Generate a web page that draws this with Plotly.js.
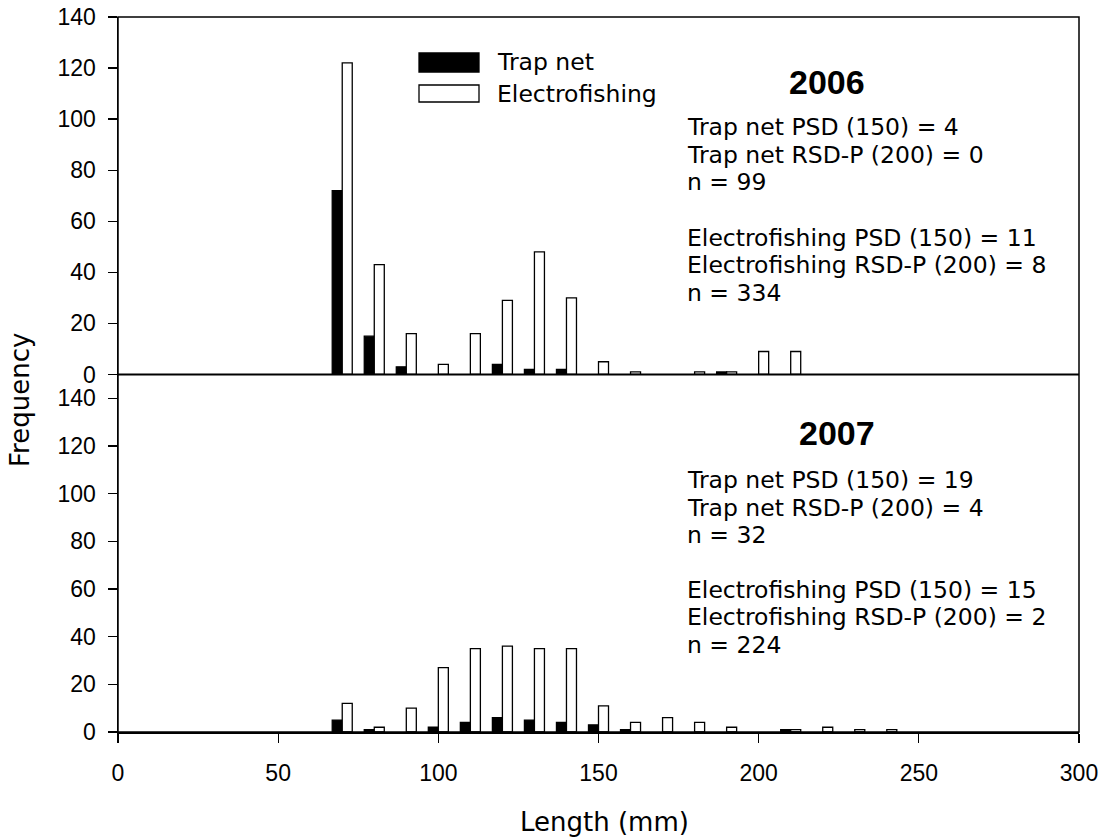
<!DOCTYPE html>
<html>
<head>
<meta charset="utf-8">
<script src="https://cdn.plot.ly/plotly-3.0.1.min.js"></script>
<style>html,body{margin:0;padding:0;background:#fff;}#plot{width:1104px;height:840px;}</style>
</head>
<body>
<div id="plot"></div>
<script>
// ---- data ----
const bins = [70, 80, 90, 100, 110, 120, 130, 140, 150, 160, 170, 180, 190, 200, 210, 220, 230, 240];
const trap2006 = [72, 15, 3, 0, 0, 4, 2, 2, 0, 0, 0, 0, 1, 0, 0, 0, 0, 0];
const electro2006 = [122, 43, 16, 4, 16, 29, 48, 30, 5, 1, 0, 1, 1, 9, 9, 0, 0, 0];
const trap2007 = [5, 1, 0, 2, 4, 6, 5, 4, 3, 1, 0, 0, 0, 0, 1, 0, 0, 0];
const electro2007 = [12, 2, 10, 27, 35, 36, 35, 35, 11, 4, 6, 4, 2, 0, 1, 2, 1, 1];
const seriesNames = ["Trap net", "Electrofishing"];
const panelTitles = ["2006", "2007"];
const stats2006 = ["Trap net PSD (150) = 4", "Trap net RSD-P (200) = 0", "n = 99",
                   "Electrofishing PSD (150) = 11", "Electrofishing RSD-P (200) = 8", "n = 334"];
const stats2007 = ["Trap net PSD (150) = 19", "Trap net RSD-P (200) = 4", "n = 32",
                   "Electrofishing PSD (150) = 15", "Electrofishing RSD-P (200) = 2", "n = 224"];
const xTicks = [0, 50, 100, 150, 200, 250, 300];
const yTicks = [0, 20, 40, 60, 80, 100, 120, 140];
const xTitle = "Length (mm)";
const yTitle = "Frequency";

// ---- layout helpers (pixel -> paper) ----
const L = 118, R = 1079, T = 17, B = 732;
const px = x => (x - L) / (R - L);
const py = y => (B - y) / (B - T);

const SANS = "Liberation Sans, Arial, sans-serif";
const WIDE = "DejaVu Sans, sans-serif";

function barTrace(x, y, ya, filled, name) {
  return {
    type: 'bar', x: x, y: y.map(v => (v === 0 ? null : v)), xaxis: 'x', yaxis: ya, name: name, showlegend: false,
    marker: { color: filled ? '#000000' : '#ffffff', line: { color: '#000000', width: 1.3 } },
    hoverinfo: 'x+y'
  };
}

const data = [
  barTrace(bins, trap2006, 'y', true, seriesNames[0]),
  barTrace(bins, electro2006, 'y', false, seriesNames[1]),
  barTrace(bins, trap2007, 'y2', true, seriesNames[0]),
  barTrace(bins, electro2007, 'y2', false, seriesNames[1])
];

const annotations = [];
function txt(x, y, text, opts) {
  annotations.push(Object.assign({
    xref: 'paper', yref: 'paper', x: px(x), y: py(y), text: text, showarrow: false,
    xanchor: 'left', yanchor: 'middle',
    font: { family: WIDE, size: 23.5, color: '#000' }
  }, opts || {}));
}
// panel titles
txt(827, 82, '<b>' + panelTitles[0] + '</b>', { xanchor: 'center', font: { family: SANS, size: 34, color: '#000' } });
txt(837, 433, '<b>' + panelTitles[1] + '</b>', { xanchor: 'center', font: { family: SANS, size: 34, color: '#000' } });
// stats
const ys2006 = [127, 155, 182, 238, 265, 293];
const ys2007 = [480, 508, 535, 590, 617, 645];
stats2006.forEach((s, i) => txt(685, ys2006[i], s));
stats2007.forEach((s, i) => txt(685, ys2007[i], s));
// legend text
txt(495, 62, seriesNames[0]);
txt(495, 94, seriesNames[1]);
// axis titles
txt(20, 400, yTitle, { xanchor: 'center', textangle: -90, font: { family: WIDE, size: 26, color: '#000' } });
txt(604, 822, xTitle, { xanchor: 'center', font: { family: WIDE, size: 26, color: '#000' } });

const shapes = [
  // frame and panel divider
  { type: 'rect', xref: 'paper', yref: 'paper', x0: 0, x1: 1, y0: 0, y1: 1, line: { color: '#000', width: 1.5 } },
  { type: 'line', xref: 'paper', yref: 'paper', x0: 0, x1: 1, y0: 0.5, y1: 0.5, line: { color: '#000', width: 2 } },
  // legend swatches
  { type: 'rect', xref: 'paper', yref: 'paper', x0: px(419), x1: px(479), y0: py(72), y1: py(53), fillcolor: '#000', line: { color: '#000', width: 1.3 } },
  { type: 'rect', xref: 'paper', yref: 'paper', x0: px(419), x1: px(479), y0: py(102), y1: py(85), fillcolor: '#fff', line: { color: '#000', width: 1.3 } }
];

const yCommon = {
  ticks: 'outside', ticklen: 9, tickwidth: 1.3, tickcolor: '#000',
  showline: true, linecolor: '#000', linewidth: 1.5, showgrid: false, zeroline: false,
  tickvals: yTicks, ticktext: yTicks.map(String), ticklabelstandoff: 7,
  tickfont: { family: SANS, size: 23, color: '#000' }, anchor: 'x', fixedrange: true
};

const layout = {
  width: 1104, height: 840,
  margin: { l: L, r: 1104 - R, t: T, b: 840 - B, pad: 0 },
  paper_bgcolor: '#fff', plot_bgcolor: '#fff',
  barmode: 'group', bargap: 0.375, bargroupgap: 0,
  showlegend: false,
  xaxis: {
    range: [0, 300], tickvals: xTicks, ticktext: xTicks.map(String),
    ticks: 'outside', ticklen: 9, tickwidth: 1.3, tickcolor: '#000',
    showline: true, linecolor: '#000', linewidth: 2, showgrid: false, zeroline: false,
    anchor: 'y2', ticklabelstandoff: 10,
    tickfont: { family: SANS, size: 23, color: '#000' }, fixedrange: true
  },
  yaxis: Object.assign({}, yCommon, { domain: [0.5, 1], range: [0, 140] }),
  yaxis2: Object.assign({}, yCommon, { domain: [0, 0.5], range: [0, 150] }),
  annotations: annotations,
  shapes: shapes
};

Plotly.newPlot('plot', data, layout, { displayModeBar: false, staticPlot: true });
</script>
</body>
</html>
